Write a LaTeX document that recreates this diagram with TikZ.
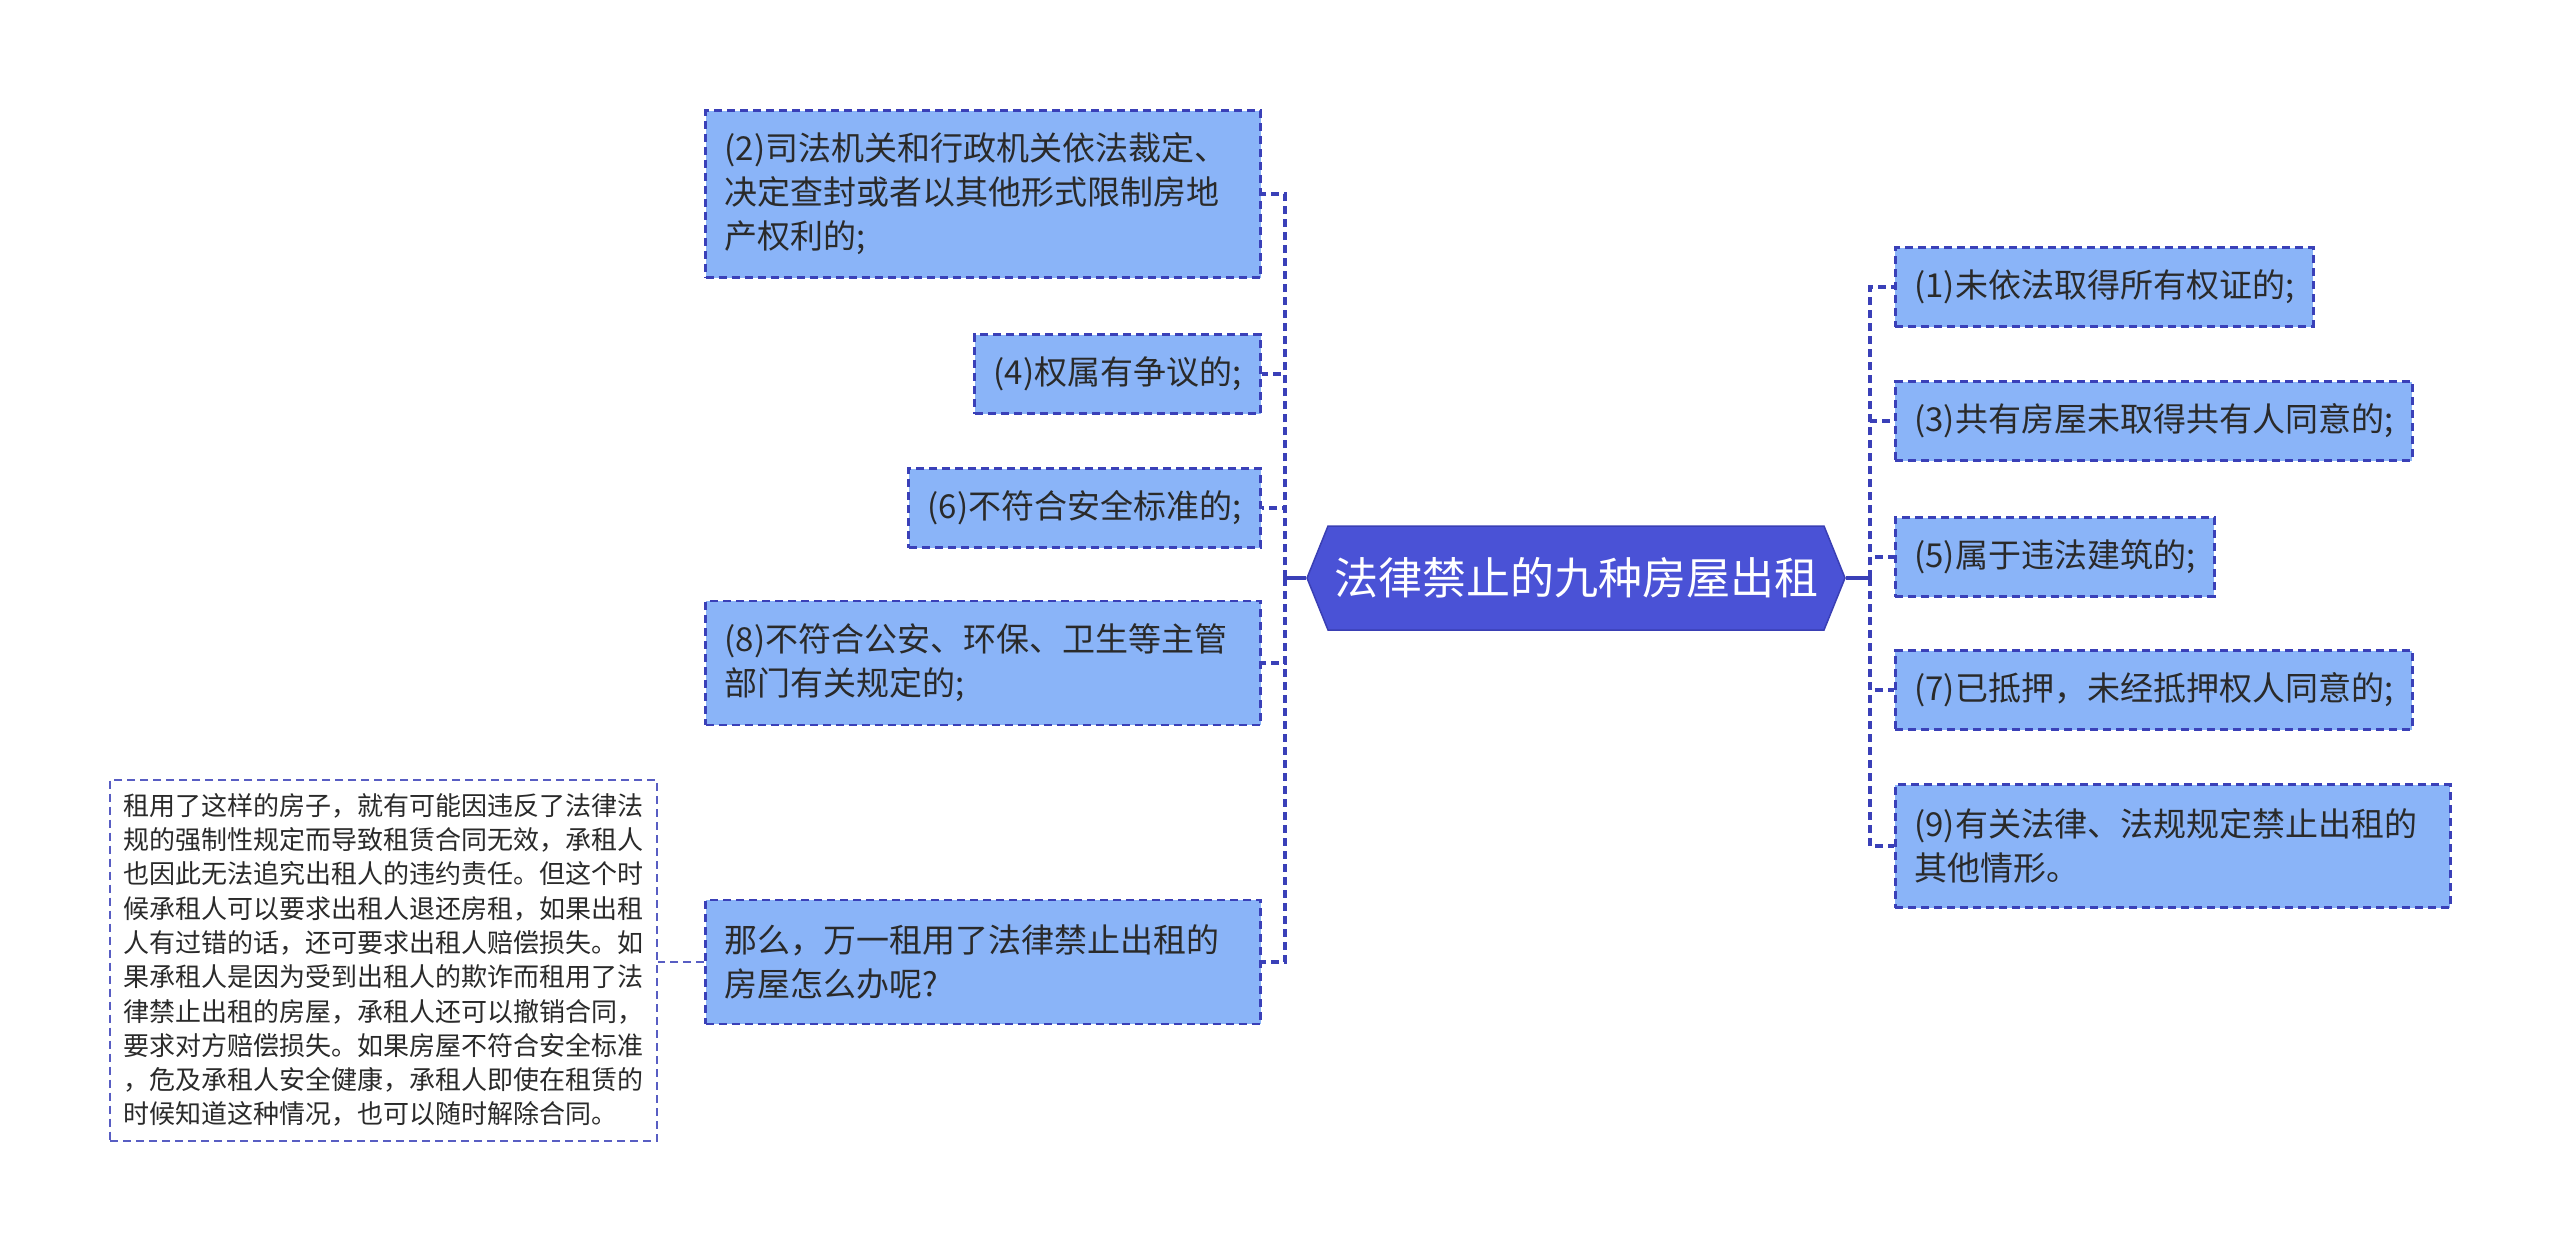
\documentclass[tikz,border=0pt]{standalone}
\usepackage{fontspec}
\setmainfont{Noto Sans CJK SC}
\usetikzlibrary{shapes.symbols}
\definecolor{rootblue}{HTML}{4A52D6}
\definecolor{rootedge}{HTML}{3A3FB4}
\definecolor{itemblue}{HTML}{8AB4F8}
\definecolor{edgeblue}{HTML}{3A40B8}
\definecolor{inkgray}{HTML}{2A2A2A}
\begin{document}
\begin{tikzpicture}[x=1pt,y=-1pt,
  root/.style={shape=signal,signal to=west and east,signal pointer angle=136,fill=rootblue,draw=rootedge,line width=1.5pt,text=white,font=\fontsize{44}{52}\selectfont,minimum width=538pt,minimum height=104pt,inner sep=0pt},
  item/.style={draw=edgeblue,fill=itemblue,dash pattern=on 8pt off 5pt,line width=2.8pt,text=inkgray,font=\fontsize{33}{44}\selectfont,inner xsep=19pt,inner ysep=0pt,minimum height=79pt,align=left},
  wideitem/.style={item,text width=517pt},
  note/.style={draw=edgeblue!85,fill=white,dash pattern=on 8pt off 5pt,line width=2pt,text=inkgray,font=\fontsize{26}{34.3}\selectfont,text width=521pt,inner xsep=13pt,inner ysep=0pt,minimum height=361pt,align=left},
  trunk/.style={draw=edgeblue,line width=3.2pt},
  bus/.style={draw=edgeblue,line width=3.4pt,dash pattern=on 8pt off 5pt},
  twig/.style={draw=edgeblue!85,line width=2pt,dash pattern=on 8pt off 5pt}]
  \fill[white] (0,0) rectangle (2560,1254);
  \useasboundingbox (0,0) rectangle (2560,1254);
  \node[root] (root) at (1576,578) {法律禁止的九种房屋出租};
  \coordinate (lbus) at (1285,578);
  \coordinate (rbus) at (1870,578);
  \node[wideitem,anchor=east,minimum height=167pt] (n2) at (1262,194) {(2)司法机关和行政机关依法裁定、\\决定查封或者以其他形式限制房地\\产权利的;};
  \node[item,anchor=east] (n4) at (1262,374) {(4)权属有争议的;};
  \node[item,anchor=east] (n6) at (1262,508) {(6)不符合安全标准的;};
  \node[wideitem,anchor=east,minimum height=124pt] (n8) at (1262,663) {(8)不符合公安、环保、卫生等主管\\部门有关规定的;};
  \node[wideitem,anchor=east,minimum height=124pt] (what) at (1262,962) {那么，万一租用了法律禁止出租的\\房屋怎么办呢?};
  \node[note,anchor=east] (answer) at (658,960) {租用了这样的房子，就有可能因违反了法律法\\规的强制性规定而导致租赁合同无效，承租人\\也因此无法追究出租人的违约责任。但这个时\\候承租人可以要求出租人退还房租，如果出租\\人有过错的话，还可要求出租人赔偿损失。如\\果承租人是因为受到出租人的欺诈而租用了法\\律禁止出租的房屋，承租人还可以撤销合同，\\要求对方赔偿损失。如果房屋不符合安全标准\\，危及承租人安全健康，承租人即使在租赁的\\时候知道这种情况，也可以随时解除合同。};
  \node[item,anchor=west] (n1) at (1894,287) {(1)未依法取得所有权证的;};
  \node[item,anchor=west] (n3) at (1894,421) {(3)共有房屋未取得共有人同意的;};
  \node[item,anchor=west] (n5) at (1894,557) {(5)属于违法建筑的;};
  \node[item,anchor=west] (n7) at (1894,690) {(7)已抵押，未经抵押权人同意的;};
  \node[wideitem,anchor=west,minimum height=123pt] (n9) at (1894,846) {(9)有关法律、法规规定禁止出租的\\其他情形。};
  \draw[trunk] (root.west) -- (lbus);
  \draw[trunk] (root.east) -- (rbus);
  \foreach \kid in {n2,n4,n6,n8,what}
    \draw[bus] (lbus) |- (\kid.east);
  \foreach \kid in {n1,n3,n5,n7,n9}
    \draw[bus] (rbus) |- (\kid.west);
  \draw[twig] (what.west) -- (what.west -| answer.east);
\end{tikzpicture}
\end{document}
